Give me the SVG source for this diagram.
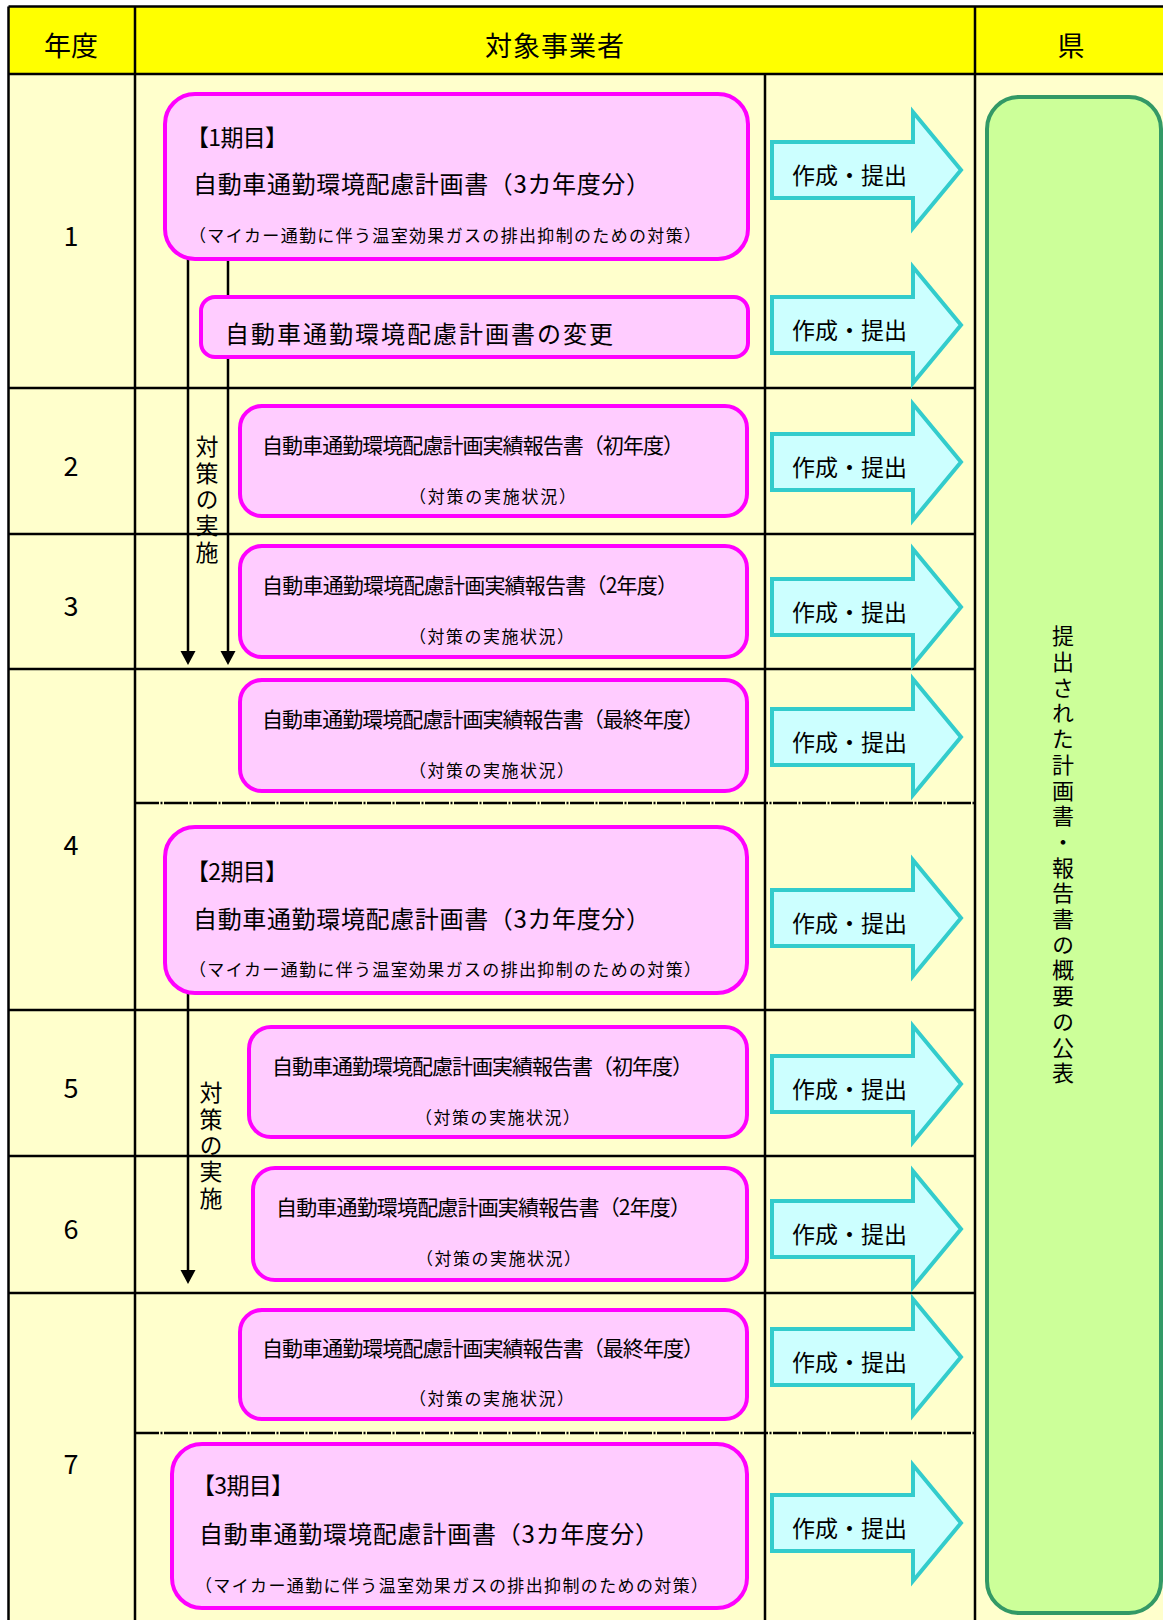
<svg xmlns="http://www.w3.org/2000/svg" xmlns:xlink="http://www.w3.org/1999/xlink" width="1163" height="1620" viewBox="0 0 1163 1620">
<style>
.t{font-family:"Noto Sans CJK JP","Noto Sans CJK SC",sans-serif;fill:#000;dominant-baseline:central}
.hd{font-size:27px}
.yr{font-size:27px;text-anchor:middle}
.box{fill:#FFCCFF;stroke:#FF00FF;stroke-width:4}
.arr{fill:#CCFFFF;stroke:#33CCCC;stroke-width:4;stroke-linejoin:miter}
.grid{stroke:#000;stroke-width:2.5;fill:none}
.dash{stroke:#000;stroke-width:2.5;stroke-dasharray:24 1.5 2 1.5;fill:none}
.f24{font-size:24px}
.f21{font-size:21px}
.f17{font-size:17px}
.f23{font-size:23px}
.conn{stroke:#000;stroke-width:2.5;fill:none}
.vt{writing-mode:vertical-rl;font-size:23px;letter-spacing:3.4px;dominant-baseline:auto}
</style>
<defs>
<path id="blk" d="M772,-28 H913 V-58 L961,0 L913,58 V28 H772 Z"/>
</defs>

<g id="table">
<rect x="8.5" y="6.5" width="1160" height="67.5" fill="#FFFF00"/>
<rect x="8.5" y="74" width="1160" height="1550" fill="#FFFFCC"/>
<path class="grid" d="M8.5,6.5 H1163 M8.5,74 H1163 M8.5,6.5 V1620 M135,6.5 V1620 M975,6.5 V1620 M765,74 V1620"/>
<path class="grid" d="M8.5,388 H975 M8.5,534 H975 M8.5,669 H975 M8.5,1010 H975 M8.5,1156 H975 M8.5,1293 H975"/>
<path class="dash" d="M135,803 H975 M135,1433 H975"/>
<text class="t hd" x="71" y="44" text-anchor="middle">年度</text>
<text class="t hd" x="555" y="44" text-anchor="middle" letter-spacing="1">対象事業者</text>
<text class="t hd" x="1071" y="44" text-anchor="middle">県</text>
<text class="t yr" x="71" y="234">1</text>
<text class="t yr" x="71" y="464">2</text>
<text class="t yr" x="71" y="604">3</text>
<text class="t yr" x="71" y="843">4</text>
<text class="t yr" x="71" y="1086">5</text>
<text class="t yr" x="71" y="1227">6</text>
<text class="t yr" x="71" y="1462">7</text>
</g>

<g id="connectors">
<path class="conn" d="M188,258 V652"/>
<polygon points="180.5,651 195.5,651 188,665" fill="#000"/>
<path class="conn" d="M228,258 V652"/>
<polygon points="220.5,651 235.5,651 228,665" fill="#000"/>
<path class="conn" d="M188,991 V1271"/>
<polygon points="180.5,1270 195.5,1270 188,1284" fill="#000"/>
<text class="t vt" x="207" y="435">対策の実施</text>
<text class="t vt" x="211" y="1081">対策の実施</text>
</g>

<g id="plan1">
<rect class="box" x="165" y="94" width="583" height="165" rx="30"/>
<text class="t f23" x="186" y="136" textLength="102" lengthAdjust="spacing">【1期目】</text>
<text class="t f24" x="193" y="182" textLength="457" lengthAdjust="spacing">自動車通勤環境配慮計画書（3カ年度分）</text>
<text class="t f17" x="189" y="234" textLength="512" lengthAdjust="spacing">（マイカー通勤に伴う温室効果ガスの排出抑制のための対策）</text>
</g>

<g id="change1">
<rect class="box" x="201" y="297" width="547" height="60" rx="14"/>
<text class="t f24" x="225" y="332" textLength="388" lengthAdjust="spacing">自動車通勤環境配慮計画書の変更</text>
</g>

<g id="report1-1">
<rect class="box" x="240" y="406" width="507" height="110" rx="22"/>
<text class="t f21" x="262" y="444" textLength="422" lengthAdjust="spacing">自動車通勤環境配慮計画実績報告書（初年度）</text>
<text class="t f17" x="409" y="495" textLength="167" lengthAdjust="spacing">（対策の実施状況）</text>
</g>

<g id="report1-2">
<rect class="box" x="240" y="546" width="507" height="111" rx="22"/>
<text class="t f21" x="262" y="584" textLength="416" lengthAdjust="spacing">自動車通勤環境配慮計画実績報告書（2年度）</text>
<text class="t f17" x="409" y="635" textLength="165" lengthAdjust="spacing">（対策の実施状況）</text>
</g>

<g id="report1-3">
<rect class="box" x="240" y="680" width="507" height="111" rx="22"/>
<text class="t f21" x="262" y="718" textLength="442" lengthAdjust="spacing">自動車通勤環境配慮計画実績報告書（最終年度）</text>
<text class="t f17" x="409" y="769" textLength="165" lengthAdjust="spacing">（対策の実施状況）</text>
</g>

<g id="plan2">
<rect class="box" x="165" y="827" width="582" height="166" rx="30"/>
<text class="t f23" x="186" y="870" textLength="102" lengthAdjust="spacing">【2期目】</text>
<text class="t f24" x="193" y="917" textLength="457" lengthAdjust="spacing">自動車通勤環境配慮計画書（3カ年度分）</text>
<text class="t f17" x="189" y="968" textLength="512" lengthAdjust="spacing">（マイカー通勤に伴う温室効果ガスの排出抑制のための対策）</text>
</g>

<g id="report2-1">
<rect class="box" x="249" y="1027" width="498" height="110" rx="22"/>
<text class="t f21" x="272" y="1065" textLength="421" lengthAdjust="spacing">自動車通勤環境配慮計画実績報告書（初年度）</text>
<text class="t f17" x="415" y="1116" textLength="165" lengthAdjust="spacing">（対策の実施状況）</text>
</g>

<g id="report2-2">
<rect class="box" x="253" y="1168" width="494" height="112" rx="22"/>
<text class="t f21" x="276" y="1206" textLength="415" lengthAdjust="spacing">自動車通勤環境配慮計画実績報告書（2年度）</text>
<text class="t f17" x="416" y="1257" textLength="165" lengthAdjust="spacing">（対策の実施状況）</text>
</g>

<g id="report2-3">
<rect class="box" x="240" y="1310" width="507" height="109" rx="22"/>
<text class="t f21" x="262" y="1347" textLength="442" lengthAdjust="spacing">自動車通勤環境配慮計画実績報告書（最終年度）</text>
<text class="t f17" x="409" y="1397" textLength="165" lengthAdjust="spacing">（対策の実施状況）</text>
</g>

<g id="plan3">
<rect class="box" x="172" y="1444" width="575" height="164" rx="30"/>
<text class="t f23" x="192" y="1484" textLength="102" lengthAdjust="spacing">【3期目】</text>
<text class="t f24" x="199" y="1532" textLength="460" lengthAdjust="spacing">自動車通勤環境配慮計画書（3カ年度分）</text>
<text class="t f17" x="195" y="1584" textLength="513" lengthAdjust="spacing">（マイカー通勤に伴う温室効果ガスの排出抑制のための対策）</text>
</g>

<g id="submit1"><use xlink:href="#blk" class="arr" y="170"/><text class="t f23" x="792" y="174" textLength="115" lengthAdjust="spacing">作成・提出</text></g>
<g id="submit2"><use xlink:href="#blk" class="arr" y="325"/><text class="t f23" x="792" y="329" textLength="115" lengthAdjust="spacing">作成・提出</text></g>
<g id="submit3"><use xlink:href="#blk" class="arr" y="462"/><text class="t f23" x="792" y="466" textLength="115" lengthAdjust="spacing">作成・提出</text></g>
<g id="submit4"><use xlink:href="#blk" class="arr" y="607"/><text class="t f23" x="792" y="611" textLength="115" lengthAdjust="spacing">作成・提出</text></g>
<g id="submit5"><use xlink:href="#blk" class="arr" y="737"/><text class="t f23" x="792" y="741" textLength="115" lengthAdjust="spacing">作成・提出</text></g>
<g id="submit6"><use xlink:href="#blk" class="arr" y="918"/><text class="t f23" x="792" y="922" textLength="115" lengthAdjust="spacing">作成・提出</text></g>
<g id="submit7"><use xlink:href="#blk" class="arr" y="1084"/><text class="t f23" x="792" y="1088" textLength="115" lengthAdjust="spacing">作成・提出</text></g>
<g id="submit8"><use xlink:href="#blk" class="arr" y="1229"/><text class="t f23" x="792" y="1233" textLength="115" lengthAdjust="spacing">作成・提出</text></g>
<g id="submit9"><use xlink:href="#blk" class="arr" y="1357"/><text class="t f23" x="792" y="1361" textLength="115" lengthAdjust="spacing">作成・提出</text></g>
<g id="submit10"><use xlink:href="#blk" class="arr" y="1523"/><text class="t f23" x="792" y="1527" textLength="115" lengthAdjust="spacing">作成・提出</text></g>

<g id="publish">
<rect x="987" y="97" width="174" height="1516" rx="32" fill="#CCFF99" stroke="#339966" stroke-width="4"/>
<text class="t vt" x="1063" y="625" style="font-size:22px;letter-spacing:3.7px">提出された計画書・報告書の概要の公表</text>
</g>
</svg>
